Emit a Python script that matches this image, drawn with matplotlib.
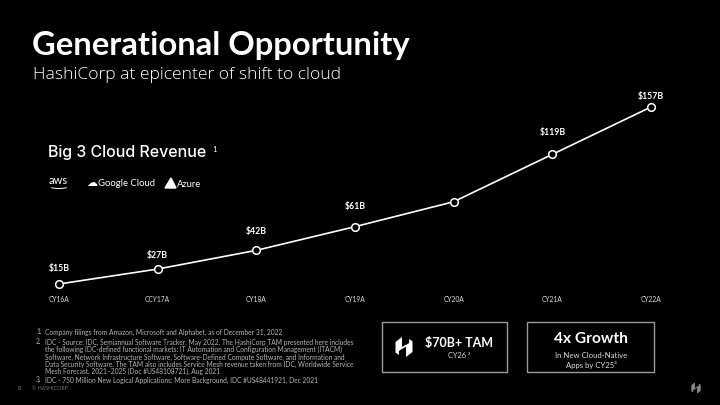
import matplotlib
matplotlib.use("Agg")
import matplotlib.pyplot as plt
from matplotlib.patches import Rectangle, Polygon, Arc

# data
years = ["CY16A", "CCY17A", "CY18A", "CY19A", "CY20A", "CY21A", "CY22A"]
revenue = [15, 27, 42, 61, 81, 119, 157]   # $B, CY20A not labelled in source
labels = ["$15B", "$27B", "$42B", "$61B", "", "$119B", "$157B"]

footnotes = [
    ("1.", ["Company filings from Amazon, Microsoft and Alphabet, as of December 31, 2022"]),
    ("2.", ["IDC - Source: IDC, Semiannual Software Tracker, May 2022. The HashiCorp TAM presented here includes",
            "the following IDC-defined functional markets: IT Automation and Configuration Management (ITACM)",
            "Software, Network Infrastructure Software, Software-Defined Compute Software, and Information and",
            "Data Security Software. The TAM also includes Service Mesh revenue taken from IDC, Worldwide Service",
            "Mesh Forecast, 2021\u20132025 (Doc #US48108721), Aug 2021"]),
    ("3.", ["IDC - 750 Million New Logical Applications: More Background, IDC #US48441921, Dec 2021"]),
]

BG = "black"
FG = "white"
GREY = "#b5b5b5"
plt.rcParams["font.family"] = ["Lato", "DejaVu Sans"]

W, H = 720, 405
fig = plt.figure(figsize=(7.2, 4.05), dpi=100, facecolor=BG)


def fx(px):
    return px / W


def fy(py):
    return 1 - py / H


# ---- line chart
ax = fig.add_axes([fx(59), fy(284), fx(651) - fx(59), fy(107) - fy(284)])
ax.set_facecolor("none")
x = range(len(years))
ax.plot(x, revenue, color=FG, lw=1.2, marker="o", ms=5.5, mfc=BG, mec=FG,
        mew=1.1, clip_on=False, zorder=3)
ax.set_xlim(0, len(years) - 1)
ax.set_ylim(revenue[0], revenue[-1])
ax.set_xticks(list(x))
ax.set_xticklabels(years, fontsize=4.8, color="#dddddd")
ax.tick_params(axis="x", length=0, pad=9)
ax.set_yticks([])
for s in ax.spines.values():
    s.set_visible(False)

offs = [15, 14, 19, 20, 0, 22, 11]
for i, (v, lab) in enumerate(zip(revenue, labels)):
    if lab:
        ax.annotate(lab, (i, v), xytext=(0, offs[i] * 0.72), textcoords="offset points",
                    ha="center", va="center", color=FG, fontsize=6.3,
                    fontweight="bold", annotation_clip=False)

# ---- titles
fig.text(fx(32), fy(46), "Generational Opportunity", color=FG, fontsize=23.6,
         fontweight="bold", va="center")
fig.text(fx(33), fy(75), "HashiCorp at epicenter of shift to cloud", color=FG,
         fontsize=12.6, fontweight="light", va="center",
         family=["Open Sans", "DejaVu Sans"])

fig.text(fx(48), fy(153), "Big 3 Cloud Revenue", color=FG, fontsize=11.5,
         fontweight="medium", va="center", family=["Inter", "DejaVu Sans"])
fig.text(fx(212), fy(149), "1", color=FG, fontsize=5.5, va="center")

# cloud provider "logos" as text
fig.text(fx(49), fy(180), "aws", color=FG, fontsize=8, va="center")
fig.patches.append(Arc((fx(59), fy(186)), fx(20), fy(0) - fy(5), theta1=200, theta2=340,
                       transform=fig.transFigure, color=FG, lw=0.7))
fig.text(fx(86), fy(183), "\u2601", color=FG, fontsize=8, va="center",
         family=["DejaVu Sans"])
fig.text(fx(98), fy(183), "Google Cloud", color=FG, fontsize=6.8, va="center")
fig.patches.append(Polygon([(fx(165), fy(188)), (fx(171), fy(178)), (fx(176), fy(188))],
                           closed=True, transform=fig.transFigure, color=FG))
fig.text(fx(177), fy(184), "Azure", color=FG, fontsize=6.8, va="center")

# ---- boxes
for x0, x1 in [(382, 507), (527, 654)]:
    fig.patches.append(Rectangle((fx(x0), fy(372)), fx(x1) - fx(x0), fy(322) - fy(372),
                                 transform=fig.transFigure, fill=False,
                                 ec="#9a9a9a", lw=1))


def hashi_logo(cx, cy, h, color):
    # rough HashiCorp mark: two slanted bars joined by a crossbar
    w = h * 0.85
    L = [(cx - w / 2, cy - h * 0.25), (cx - w * 0.12, cy - h / 2), (cx - w * 0.12, cy + h * 0.1),
         (cx - w * 0.3, cy + h * 0.2), (cx - w * 0.3, cy + h * 0.4), (cx - w / 2, cy + h * 0.28)]
    R = [(cx + w / 2, cy + h * 0.25), (cx + w * 0.12, cy + h / 2), (cx + w * 0.12, cy - h * 0.1),
         (cx + w * 0.3, cy - h * 0.2), (cx + w * 0.3, cy - h * 0.4), (cx + w / 2, cy - h * 0.28)]
    M = [(cx - w * 0.12, cy + h * 0.1), (cx + w * 0.12, cy - h * 0.02),
         (cx + w * 0.12, cy - h * 0.12), (cx - w * 0.12, cy)]
    for pts in (L, R):
        fig.patches.append(Polygon([(fx(a), fy(b)) for a, b in pts], closed=True,
                                   transform=fig.transFigure, color=color, lw=0))
    fig.patches.append(Polygon([(fx(a), fy(b)) for a, b in M], closed=True,
                               transform=fig.transFigure, color=color, lw=0))


hashi_logo(404, 347, 20, FG)
hashi_logo(696, 388, 11, "#8a8a8a")

fig.text(fx(459), fy(343), "$70B+ TAM", color=FG, fontsize=9, fontweight="bold",
         ha="center", va="center")
fig.text(fx(459), fy(355), "CY26 \u00b2", color="#dddddd", fontsize=5.3,
         ha="center", va="center")

fig.text(fx(591), fy(339), "4x Growth", color=FG, fontsize=11.2, fontweight="bold",
         ha="center", va="center")
fig.text(fx(591), fy(356), "In New Cloud-Native", color="#dddddd", fontsize=5.6,
         ha="center", va="center")
fig.text(fx(591), fy(365), "Apps by CY25\u00b3", color="#dddddd", fontsize=5.6,
         ha="center", va="center")

# ---- footnotes
line_y = [332, 342, 349, 357, 364, 371, 380]
k = 0
for num, lines in footnotes:
    fig.text(fx(36), fy(line_y[k]), num, color=GREY, fontsize=4.8, va="center")
    for ln in lines:
        fig.text(fx(45), fy(line_y[k]), ln, color=GREY, fontsize=4.8, va="center")
        k += 1

fig.text(fx(18), fy(389), "8", color="#888888", fontsize=3.8, va="center")
fig.text(fx(32), fy(389), "\u00a9 HASHICORP", color="#777777", fontsize=3.8, va="center")

fig.savefig("out.png", dpi=100, facecolor=BG)
